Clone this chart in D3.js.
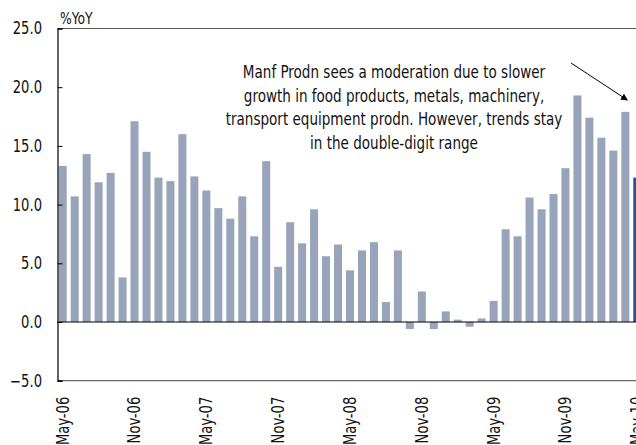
<!DOCTYPE html>
<html lang="en">
<head>
<meta charset="UTF-8">
<title>Manf Prodn %YoY</title>
<script src="https://d3js.org/d3.v7.min.js"></script>
<style>
  body { margin: 0; background: #fff; }
  svg text { font-family: "Liberation Sans Narrow", "DejaVu Sans Condensed", "Arial Narrow", sans-serif; fill: #111; }
</style>
</head>
<body>
<div id="chart"></div>
<script>
// months May-06 .. May-10
const months = ["May-06","Jun-06","Jul-06","Aug-06","Sep-06","Oct-06","Nov-06","Dec-06","Jan-07","Feb-07","Mar-07","Apr-07",
  "May-07","Jun-07","Jul-07","Aug-07","Sep-07","Oct-07","Nov-07","Dec-07","Jan-08","Feb-08","Mar-08","Apr-08",
  "May-08","Jun-08","Jul-08","Aug-08","Sep-08","Oct-08","Nov-08","Dec-08","Jan-09","Feb-09","Mar-09","Apr-09",
  "May-09","Jun-09","Jul-09","Aug-09","Sep-09","Oct-09","Nov-09","Dec-09","Jan-10","Feb-10","Mar-10","Apr-10","May-10"];
const yoy = [13.3,10.7,14.3,11.9,12.7,3.8,17.1,14.5,12.3,12.0,16.0,12.4,
  11.2,9.7,8.8,10.7,7.3,13.7,4.7,8.5,6.7,9.6,5.6,6.6,
  4.4,6.1,6.8,1.7,6.1,-0.6,2.6,-0.6,0.9,0.2,-0.4,0.3,
  1.8,7.9,7.3,10.6,9.6,10.9,13.1,19.3,17.4,15.7,14.6,17.9,12.3];
const tickMonths = ["May-06","Nov-06","May-07","Nov-07","May-08","Nov-08","May-09","Nov-09","May-10"];
const yTicks = [-5, 0, 5, 10, 15, 20, 25];
const note = ["Manf Prodn sees a moderation due to slower",
  "growth in food products, metals, machinery,",
  "transport equipment prodn. However, trends stay",
  "in the double-digit range"];

const W = 636, H = 445;
const mLeft = 57.5, mTop = 28.5, mBottom = 380.7;
const step = 11.94;
const squeeze = 0.86;   // horizontal squeeze to get the narrow look of the original type

const svg = d3.select("#chart").append("svg").attr("width", W).attr("height", H);

// a couple of extra bands so the plot runs past the right edge, as in the cropped original
const xDomain = months.concat(["Jun-10", "Jul-10"]);
const x = d3.scaleBand().domain(xDomain)
  .range([mLeft, mLeft + step * xDomain.length])
  .paddingInner(0.33).paddingOuter(0.1);
const y = d3.scaleLinear().domain([-5, 25]).range([mBottom, mTop]);

// frame lines
svg.append("line").attr("x1", mLeft).attr("x2", W).attr("y1", mTop).attr("y2", mTop)
  .attr("stroke", "#555").attr("stroke-width", 1.2);
svg.append("line").attr("x1", mLeft).attr("x2", W).attr("y1", mBottom).attr("y2", mBottom)
  .attr("stroke", "#666").attr("stroke-width", 1.2);

// bars
svg.selectAll(".bar").data(months).enter().append("rect")
  .attr("class", "bar")
  .attr("x", d => x(d))
  .attr("width", x.bandwidth())
  .attr("y", (d, i) => y(Math.max(0, yoy[i])))
  .attr("height", (d, i) => Math.abs(y(yoy[i]) - y(0)))
  .attr("fill", (d, i) => i === months.length - 1 ? "#2e4f8c" : "#97a4ba");

// zero line
svg.append("line").attr("x1", mLeft).attr("x2", W).attr("y1", y(0)).attr("y2", y(0))
  .attr("stroke", "#000").attr("stroke-width", 1.2);

// y axis
const yAxis = svg.append("g").attr("transform", `translate(${mLeft},0)`)
  .call(d3.axisLeft(y).tickValues(yTicks).tickFormat(d3.format(".1f")).tickSize(-5).tickPadding(15));
yAxis.select(".domain").attr("stroke", "#000").attr("stroke-width", 1.2);
yAxis.selectAll(".tick line").attr("stroke", "#000");
yAxis.selectAll("text").style("font-size", "17px")
  .attr("x", -15.5 / squeeze)
  .attr("transform", `scale(${squeeze},1)`);

// x axis labels
const xAxis = svg.append("g").attr("transform", `translate(0,${mBottom})`)
  .call(d3.axisBottom(x).tickValues(tickMonths).tickSize(0));
xAxis.select(".domain").remove();
xAxis.selectAll("text")
  .style("font-size", "17px")
  .attr("text-anchor", "end")
  .attr("transform", `rotate(-90) scale(${squeeze},1)`)
  .attr("x", -16 / squeeze).attr("y", 0).attr("dy", "0.35em");

// unit label
svg.append("text").attr("transform", `translate(60,24) scale(${squeeze},1)`)
  .style("font-size", "16px").text("%YoY");

// annotation
svg.append("text").attr("text-anchor", "middle").style("font-size", "17.5px")
  .attr("transform", `translate(394,0) scale(${squeeze},1)`)
  .selectAll("tspan").data(note).enter().append("tspan")
  .attr("x", 0).attr("y", (d, i) => 78 + i * 23.7).text(d => d);

svg.append("defs").append("marker").attr("id", "arr")
  .attr("viewBox", "0 0 10 10").attr("refX", 9).attr("refY", 5)
  .attr("markerWidth", 7).attr("markerHeight", 7).attr("orient", "auto")
  .append("path").attr("d", "M0,0L10,5L0,10z").attr("fill", "#000");
svg.append("line").attr("x1", 571).attr("y1", 63)
  .attr("x2", x("Apr-10") + x.bandwidth() / 2 + 2).attr("y2", 100)
  .attr("stroke", "#000").attr("stroke-width", 1).attr("marker-end", "url(#arr)");
</script>
</body>
</html>
